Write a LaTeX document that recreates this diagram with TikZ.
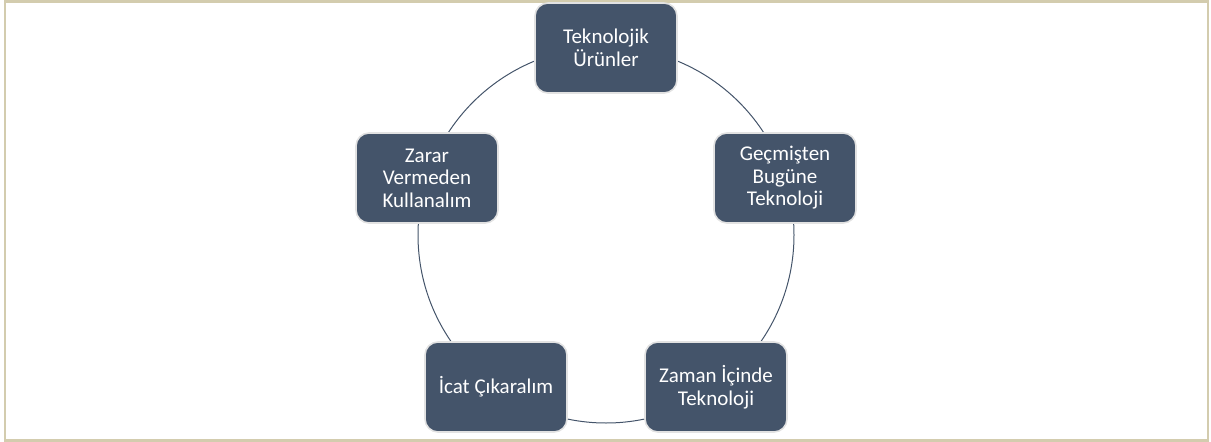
\documentclass[tikz,border=0pt]{standalone}
\usepackage{fontspec}
\setmainfont{Carlito}
\definecolor{boxfill}{HTML}{44546A}
\definecolor{ringcol}{HTML}{44546A}
\definecolor{framecol}{HTML}{D3CCAE}
\definecolor{edgecol}{HTML}{E2E2E2}
\begin{document}
\begin{tikzpicture}[x=1pt,y=-1pt,
  stagebox/.style={draw=edgecol,line width=1.6pt,fill=boxfill,rounded corners=13pt,
    minimum width=142pt,minimum height=90pt,align=center,
    text=white,font=\fontsize{21}{22.5}\selectfont,inner sep=0pt},
  ring/.style={draw=ringcol,line width=1pt}]
\useasboundingbox (0,0) rectangle (1211,442);
\draw[framecol,line width=2.6pt] (5,1.5) rectangle (1208,440.5);
\coordinate (c) at (606,235);
\draw[ring] (c) circle[radius=188pt];
\node[stagebox] (a) at (606,48) {Teknolojik\\Ürünler};
\node[stagebox] (b) at (785,178) {Geçmişten\\Bugüne\\Teknoloji};
\node[stagebox] (d) at (716,387) {Zaman İçinde\\Teknoloji};
\node[stagebox] (e) at (496,387) {İcat Çıkaralım};
\node[stagebox] (f) at (427,178) {Zarar\\Vermeden\\Kullanalım};
\end{tikzpicture}
\end{document}
